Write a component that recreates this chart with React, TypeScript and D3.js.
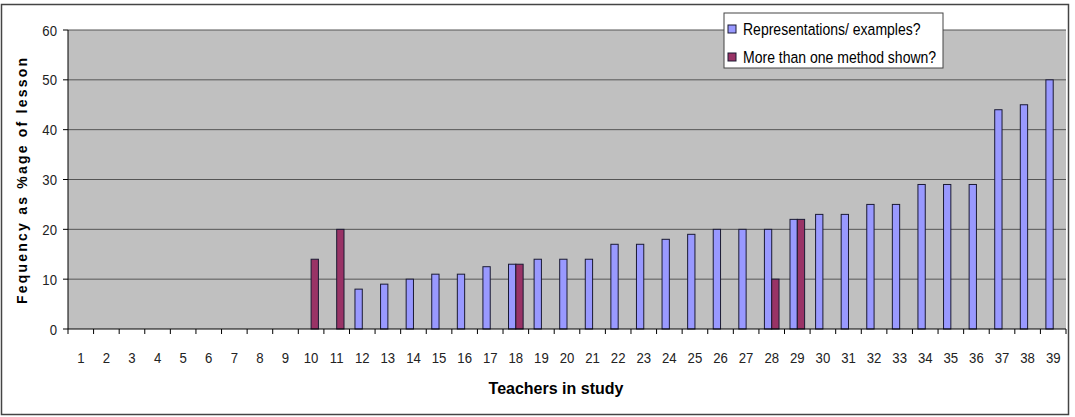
import React from "react";
import * as d3 from "d3";

const categories: string[] = Array.from({ length: 39 }, (_, i) => String(i + 1));
const seriesNames: string[] = ["Representations/ examples?", "More than one method shown?"];
// values per teacher (0 = no bar)
const representations: number[] = [
  0, 0, 0, 0, 0, 0, 0, 0, 0, 0, 0, 8, 9, 10, 11, 11, 12.5, 13, 14, 14,
  14, 17, 17, 18, 19, 20, 20, 20, 22, 23, 23, 25, 25, 29, 29, 29, 44, 45, 50,
];
const moreThanOne: number[] = [
  0, 0, 0, 0, 0, 0, 0, 0, 0, 14, 20, 0, 0, 0, 0, 0, 0, 13, 0, 0,
  0, 0, 0, 0, 0, 0, 0, 10, 22, 0, 0, 0, 0, 0, 0, 0, 0, 0, 0,
];
const yTicks: number[] = [0, 10, 20, 30, 40, 50, 60];
const colors = ["#9999FF", "#993366"];

function NText(props: { x: number; y: number; sx?: number; children: React.ReactNode; [k: string]: any }) {
  const { x, y, sx = 0.85, children, ...rest } = props;
  return (
    <text transform={`translate(${x},${y}) scale(${sx},1)`} {...rest}>
      {children}
    </text>
  );
}

export default function App() {
  const W = 1075, H = 417;
  const left = 68, right = 1066, top = 30, bottom = 329;
  const x0 = d3.scaleBand<string>().domain(categories).range([left, right]).paddingInner(0).paddingOuter(0);
  const x1 = d3.scaleBand<string>().domain(["0", "1"]).range([0, x0.bandwidth()]).paddingInner(0).paddingOuter(0.75);
  const y = d3.scaleLinear().domain([0, 60]).range([bottom, top]);
  const series = [representations, moreThanOne];
  const font = "'Liberation Sans', Arial, sans-serif";

  return (
    <svg width={W} height={H} style={{ position: "absolute", left: 0, top: 0, background: "#fff" }} fontFamily={font}>
      <rect x={1.5} y={4.5} width={1067} height={410} fill="#fff" stroke="#444" strokeWidth={1.5} />
      <rect x={left} y={top} width={right - left} height={bottom - top} fill="#C0C0C0" />
      {yTicks.map((t) => (
        <g key={t}>
          {t > 0 && <line x1={left} x2={right} y1={y(t)} y2={y(t)} stroke="#555" strokeWidth={1} />}
          <line x1={left - 5} x2={left} y1={y(t)} y2={y(t)} stroke="#000" />
          <NText x={left - 11} y={y(t)} dy="0.36em" textAnchor="end" fontSize={15.5} fill="#222">{t}</NText>
        </g>
      ))}
      {series.map((vals, si) =>
        vals.map((v, i) =>
          v > 0 ? (
            <rect
              key={si + "-" + i}
              x={(x0(categories[i]) as number) + (x1(String(si)) as number)}
              y={y(v)}
              width={x1.bandwidth()}
              height={y(0) - y(v)}
              fill={colors[si]}
              stroke="#1a1a33"
              strokeWidth={1}
            />
          ) : null
        )
      )}
      <line x1={left} x2={left} y1={top} y2={bottom} stroke="#000" />
      <line x1={left} x2={right} y1={bottom} y2={bottom} stroke="#000" />
      {categories.map((c) => (
        <g key={c}>
          <line x1={x0(c) as number} x2={x0(c) as number} y1={bottom} y2={bottom + 5} stroke="#000" />
          <NText x={(x0(c) as number) + x0.bandwidth() / 2} y={363} textAnchor="middle" fontSize={15.5} fill="#222">{c}</NText>
        </g>
      ))}
      <line x1={right} x2={right} y1={bottom} y2={bottom + 5} stroke="#000" />
      <text x={556} y={394} textAnchor="middle" fontSize={16} fontWeight="bold" fill="#000">Teachers in study</text>
      <text
        x={-181}
        y={27}
        transform="rotate(-90)"
        textAnchor="middle"
        fontSize={14}
        fontWeight="bold"
        fill="#000"
        textLength={246}
        lengthAdjust="spacing"
      >
        Fequency as %age of lesson
      </text>
      <g>
        <rect x={724} y={13} width={219} height={55} fill="#fff" stroke="#444" strokeWidth={1} />
        {seriesNames.map((n, i) => (
          <g key={n}>
            <rect x={728} y={25 + i * 28} width={8} height={8} fill={colors[i]} stroke="#1a1a33" strokeWidth={1} />
            <NText x={743} y={29 + i * 28} dy="0.36em" fontSize={16.5} fill="#000">{n}</NText>
          </g>
        ))}
      </g>
    </svg>
  );
}
